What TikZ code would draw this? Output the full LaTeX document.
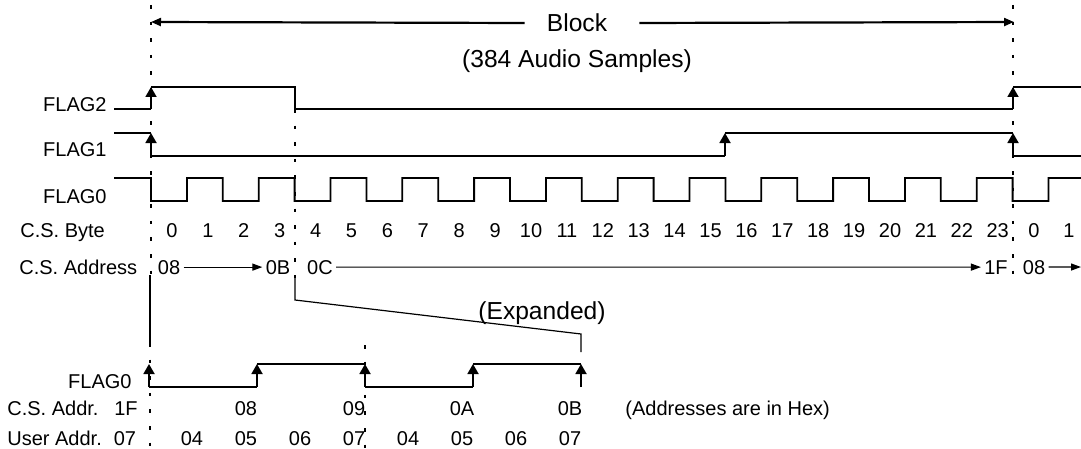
\documentclass[tikz,border=0pt]{standalone}
\usepackage{fontspec}
\setmainfont{Liberation Sans}
\usetikzlibrary{arrows.meta, positioning}

\begin{document}
\begin{tikzpicture}[x=0.5pt, y=-0.5pt,
    txt/.style={font=\fontsize{10}{12}\selectfont, inner sep=0pt},
    bigtxt/.style={font=\fontsize{12.3}{15}\selectfont, inner sep=0pt},
    addr/.style={txt, anchor=base, inner xsep=1.5pt, inner ysep=1pt},
    sig/.style={line width=0.9pt},
    rise/.style={line width=0.9pt, -{Triangle[length=5pt, width=5.5pt]}},
    guide/.style={line width=0.7pt, dash pattern=on 1.8pt off 6.5pt},
    zoomline/.style={line width=0.6pt},
    addrarrow/.style={line width=0.6pt, -{Triangle[length=5pt, width=3.5pt]}},
    blockarrow/.style={line width=1.1pt, -{Triangle[length=5pt, width=4pt]}}]
  \useasboundingbox (0,0) rectangle (1081,449);

  \coordinate (bstart) at (151,22);
  \coordinate (bend) at (1014,22);
  \node[bigtxt] (block) at (577,23) {Block};
  \node[bigtxt, anchor=base] (samples) at (577,68) {(384 Audio Samples)};
  \draw[blockarrow] ([xshift=-11pt]block.west) -- (bstart);
  \draw[blockarrow] ([xshift=16pt]block.east) -- (bend);

  \draw[guide] (151,5) -- (151,275);
  \draw[guide] (1013,5) -- (1013,285);
  \draw[guide] (295,109) -- (295,278);

  \node[txt, anchor=base east] (flag2) at (107,112) {FLAG2};
  \node[txt, anchor=base east] (flag1) at (107,156) {FLAG1};
  \node[txt, anchor=base east] (flag0) at (107,203) {FLAG0};
  \node[txt, anchor=base west] (csbyte) at (20,237) {C.S. Byte};
  \node[txt, anchor=base west] (csaddress) at (19,274) {C.S. Address};

  \draw[sig] (114,109) -- (151,109);
  \draw[rise] (151,109) -- (151,87);
  \draw[sig] (151,87) -- (295,87) -- (295,109) -- (1013,109);
  \draw[rise] (1013,109) -- (1013,87);
  \draw[sig] (1013,87) -- (1081,87);

  \draw[sig] (114,133) -- (151,133);
  \draw[rise] (151,156) -- (151,133);
  \draw[sig] (151,156) -- (725,156);
  \draw[rise] (725,156) -- (725,133);
  \draw[sig] (725,133) -- (1013,133);
  \draw[rise] (1013,156) -- (1013,133);
  \draw[sig] (1013,156) -- (1081,156);

  \draw[sig] (114,178) -- (151,178)
    \foreach \i in {0,2,...,22} {
      -- ({151+35.9*\i},201) -- ({186.9+35.9*\i},201)
      -- ({186.9+35.9*\i},178) -- ({222.8+35.9*\i},178)}
    -- (1012.6,201) -- (1048.5,201) -- (1048.5,178) -- (1081,178);

  \foreach \k in {0,...,23}
    \node[txt, anchor=base] (byte\k) at ({172+35.9*\k},237) {\k};
  \node[txt, anchor=base] (next0) at (1034,237) {0};
  \node[txt, anchor=base] (next1) at (1069,237) {1};

  \node[addr] (a08) at (169,274) {08};
  \node[addr] (a0B) at (278,274) {0B};
  \node[addr] (a0C) at (320,274) {0C};
  \node[addr] (a1F) at (996,274) {1F};
  \node[addr] (b08) at (1034,274) {08};
  \coordinate (aend) at (1081,267);
  \draw[addrarrow] (a08) -- (a0B);
  \draw[addrarrow] (a0C) -- (a1F);
  \draw[addrarrow] (b08) -- (aend);

  \draw[zoomline] (150,275) -- (150,343);
  \draw[zoomline] (295,278) -- (295,300) -- (581,334) -- (581,352);
  \node[bigtxt, anchor=base] (expanded) at (542,319) {(Expanded)};

  \draw[guide] (150,343) -- (150,449);
  \draw[guide] (365,345) -- (365,449);

  \node[txt, anchor=base east] (bflag0) at (132,388) {FLAG0};
  \node[txt, anchor=base west] (csaddr) at (7,415) {C.S. Addr.};
  \node[txt, anchor=base west] (useraddr) at (7,445) {User Addr.};

  \foreach \k in {0,...,4}
    \draw[rise] ({149+108*\k},387) -- ({149+108*\k},364);
  \draw[sig] (149,387) -- (257,387);
  \draw[sig] (257,364) -- (365,364);
  \draw[sig] (365,387) -- (473,387);
  \draw[sig] (473,364) -- (581,364);

  \node[txt, anchor=base] (c1F) at (126,415) {1F};
  \foreach \v [count=\k from 0] in {08,09,0A,0B}
    \node[txt, anchor=base] (c\v) at ({246+108*\k},415) {\v};
  \node[txt, anchor=base west] (hexnote) at (625,415) {(Addresses are in Hex)};

  \node[txt, anchor=base] (u0) at (125,445) {07};
  \foreach \v [count=\k] in {04,05,06,07,04,05,06,07}
    \node[txt, anchor=base] (u\k) at ({138+54*\k},445) {\v};
\end{tikzpicture}
\end{document}
